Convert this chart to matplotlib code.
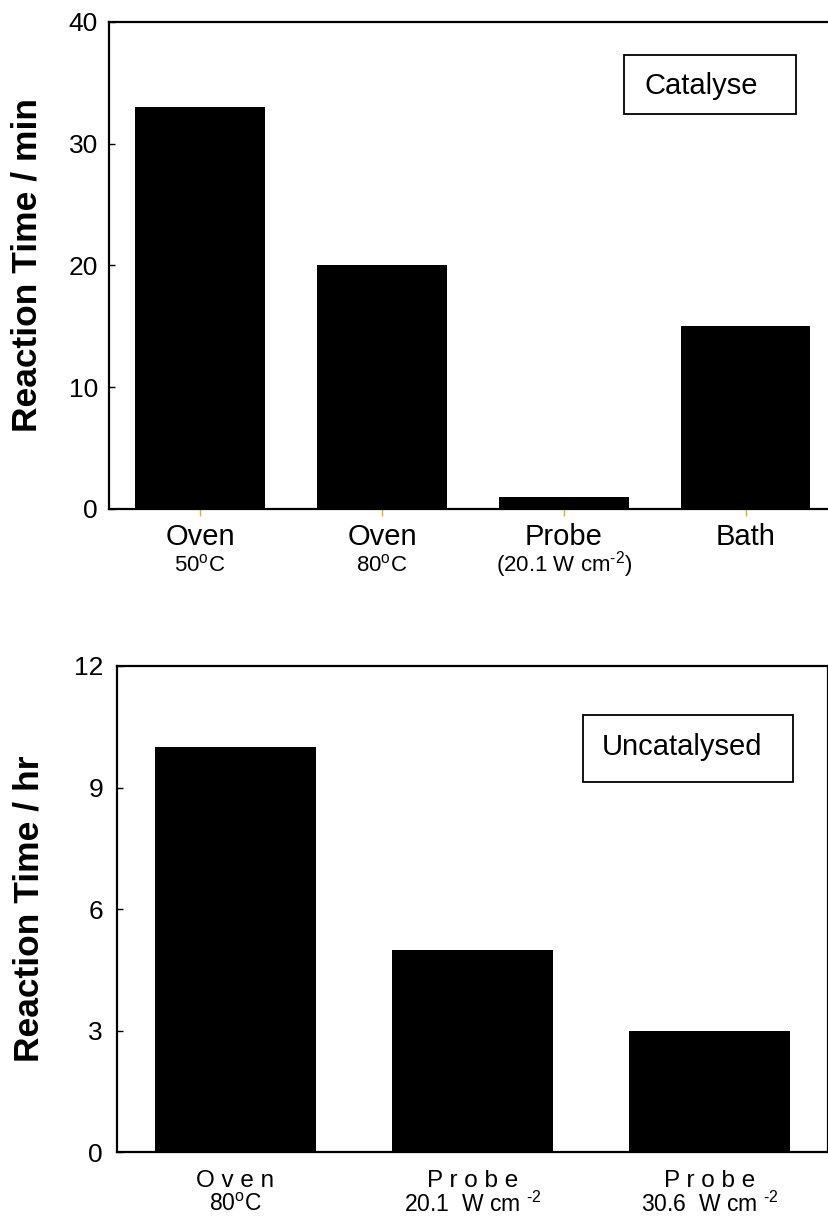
import matplotlib
matplotlib.use('Agg')
from matplotlib import pyplot as plt
from matplotlib.patches import Rectangle

plt.rcParams['font.family'] = ['Liberation Sans', 'DejaVu Sans']
plt.rcParams['mathtext.fontset'] = 'custom'
plt.rcParams['mathtext.rm'] = 'Liberation Sans'
plt.rcParams['mathtext.default'] = 'regular'

# datos - catalizada (min)
cat_names = ['Oven', 'Oven', 'Probe', 'Bath']
cat_sub = ['50$^{o}$C', '80$^{o}$C', '(20.1 W cm$^{\\text{-2}}$)', '']
cat_time = [33, 20, 1, 15]
cat_yticks = [0, 10, 20, 30, 40]

# datos - no catalizada (hr)
unc_names = ['O v e n', 'P r o b e', 'P r o b e']
unc_sub = ['80$^{o}$C', '20.1  W cm $^{\\text{-2}}$', '30.6  W cm $^{\\text{-2}}$']
unc_time = [10, 5, 3]
unc_yticks = [0, 3, 6, 9, 12]

fig = plt.figure(figsize=(8.29, 12.2), dpi=100)

# grafica de arriba
ax1 = fig.add_axes([0.1315, 0.5828, 0.878, 0.3992])
ax1.bar(range(len(cat_time)), cat_time, width=0.71, color='black')
ax1.set_xlim(-0.5, 3.5)
ax1.set_ylim(0, 40)
ax1.set_yticks(cat_yticks)
ax1.set_xticks(range(len(cat_names)))
ax1.set_xticklabels(cat_names, fontsize=21)
ax1.tick_params(axis='x', direction='out', length=5, width=1, color='#e0b020', pad=5)
ax1.tick_params(axis='y', direction='in', length=4, width=1, labelsize=19, pad=8)
ax1.spines['right'].set_visible(False)
for s in ['left', 'bottom', 'top']:
    ax1.spines[s].set_linewidth(1.6)
for i, t in enumerate(cat_sub):
    ax1.annotate(t, xy=(i, 0), xycoords=('data', 'axes fraction'), xytext=(0, -56),
                 textcoords='offset pixels', ha='center', va='center', fontsize=16)
ax1.set_ylabel('Reaction Time / min', fontsize=25.5, fontweight='bold')
ax1.yaxis.set_label_coords(-0.09, 0.5)
ax1.add_patch(Rectangle((0.7074, 0.8111), 0.2363, 0.1211, transform=ax1.transAxes,
                        fill=False, ec='black', lw=1.3))
ax1.text(0.7363, 0.852, 'Catalyse', transform=ax1.transAxes, fontsize=21, va='baseline')

# grafica de abajo
ax2 = fig.add_axes([0.1411, 0.0557, 0.8582, 0.3984])
ax2.bar(range(len(unc_time)), unc_time, width=0.68, color='black')
ax2.set_xlim(-0.5, 2.5)
ax2.set_ylim(0, 12)
ax2.set_yticks(unc_yticks)
ax2.set_xticks(range(len(unc_names)))
ax2.set_xticklabels(unc_names, fontsize=17.5)
ax2.tick_params(axis='x', length=0, pad=13)
ax2.tick_params(axis='y', direction='in', length=4, width=1, labelsize=19, pad=10)
for s in ax2.spines.values():
    s.set_linewidth(1.6)
for i, t in enumerate(unc_sub):
    ax2.annotate(t, xy=(i, 0), xycoords=('data', 'axes fraction'), xytext=(0, -52),
                 textcoords='offset pixels', ha='center', va='center', fontsize=16.5)
ax2.set_ylabel('Reaction Time / hr', fontsize=25.5, fontweight='bold')
ax2.yaxis.set_label_coords(-0.1, 0.5)
ax2.add_patch(Rectangle((0.655, 0.7613), 0.295, 0.1379, transform=ax2.transAxes,
                        fill=False, ec='black', lw=1.3))
ax2.text(0.6817, 0.8169, 'Uncatalysed', transform=ax2.transAxes, fontsize=21, va='baseline')

plt.savefig('out.png', dpi=100)
